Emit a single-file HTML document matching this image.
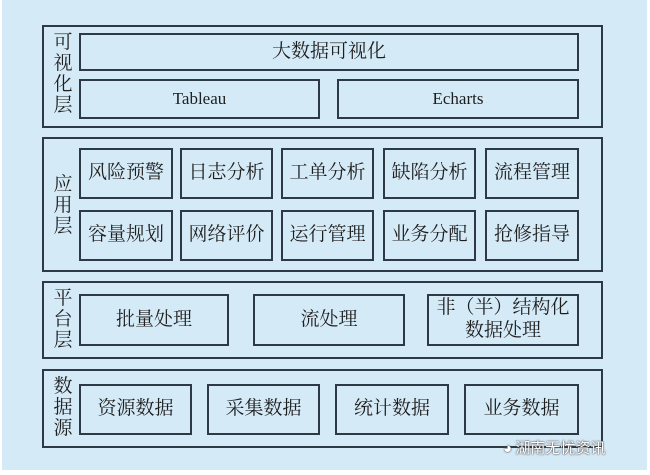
<!DOCTYPE html>
<html><head><meta charset="utf-8"><style>
body{margin:0;width:650px;height:475px;background:#fff;position:relative;overflow:hidden;font-family:"Liberation Serif","Noto Serif CJK SC",serif;}
.bg{position:absolute;left:2px;top:0;width:645px;height:470px;background:#d5eaf7;}
.L{position:absolute;left:42px;width:561px;border:2px solid #2d3a45;box-sizing:border-box;}
.b{position:absolute;border:2px solid #2d3a45;box-sizing:border-box;display:flex;align-items:center;justify-content:center;text-align:center;font-size:19px;color:#1e1e1e;line-height:1.2;}
.v{position:absolute;left:52px;width:22px;font-size:19px;line-height:21px;color:#1e1e1e;text-align:center;}
.e{font-size:17px;}
</style></head><body>
<div class="bg"></div>
<div class="L" style="top:25px;height:103px"></div>
<div class="L" style="top:137px;height:135px"></div>
<div class="L" style="top:281px;height:78px"></div>
<div class="L" style="top:369px;height:79px"></div>
<div class="v" style="top:32px">可<br>视<br>化<br>层</div>
<div class="v" style="top:174px">应<br>用<br>层</div>
<div class="v" style="top:288px">平<br>台<br>层</div>
<div class="v" style="top:376px">数<br>据<br>源</div>
<div class="b" style="left:79px;top:33px;width:500px;height:38px">大数据可视化</div>
<div class="b e" style="left:79px;top:79px;width:241px;height:40px">Tableau</div>
<div class="b e" style="left:337px;top:79px;width:242px;height:40px">Echarts</div>
<div class="b" style="left:79px;top:148px;width:94px;height:51px">风险预警</div>
<div class="b" style="left:180px;top:148px;width:93px;height:51px">日志分析</div>
<div class="b" style="left:281px;top:148px;width:93px;height:51px">工单分析</div>
<div class="b" style="left:383px;top:148px;width:93px;height:51px">缺陷分析</div>
<div class="b" style="left:485px;top:148px;width:94px;height:51px">流程管理</div>
<div class="b" style="left:79px;top:210px;width:94px;height:51px">容量规划</div>
<div class="b" style="left:180px;top:210px;width:93px;height:51px">网络评价</div>
<div class="b" style="left:281px;top:210px;width:93px;height:51px">运行管理</div>
<div class="b" style="left:383px;top:210px;width:93px;height:51px">业务分配</div>
<div class="b" style="left:485px;top:210px;width:94px;height:51px">抢修指导</div>
<div class="b" style="left:79px;top:294px;width:150px;height:52px">批量处理</div>
<div class="b" style="left:253px;top:294px;width:152px;height:52px">流处理</div>
<div class="b" style="left:427px;top:294px;width:152px;height:52px">非（半）结构化<br>数据处理</div>
<div class="b" style="left:79px;top:384px;width:113px;height:51px">资源数据</div>
<div class="b" style="left:207px;top:384px;width:113px;height:51px">采集数据</div>
<div class="b" style="left:335px;top:384px;width:114px;height:51px">统计数据</div>
<div class="b" style="left:464px;top:384px;width:115px;height:51px">业务数据</div>
<div style="position:absolute;left:503px;top:437px;font-size:15px;color:#fff;text-shadow:0 0 1px #333,0 0 2px #555;font-family:'Noto Sans CJK SC',sans-serif">◕ 湖南无忧资讯</div>
</body></html>
